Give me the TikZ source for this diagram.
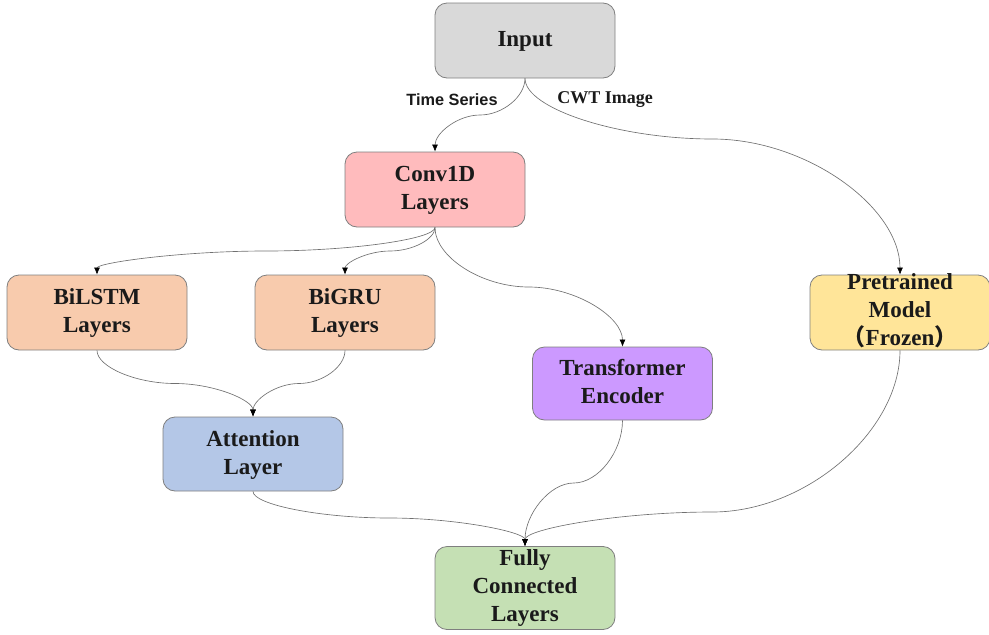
\documentclass[tikz,border=0pt]{standalone}
\usepackage{fontspec}
\setmainfont{Liberation Serif}
\newfontfamily\lsans{Liberation Sans}
\newfontfamily\cjk{Noto Sans CJK SC}
\usetikzlibrary{arrows.meta,calc}
\definecolor{cIn}{HTML}{D9D9D9}
\definecolor{cConv}{HTML}{FFBBBD}
\definecolor{cRnn}{HTML}{F8CBAD}
\definecolor{cTr}{HTML}{CC99FF}
\definecolor{cPre}{HTML}{FFE599}
\definecolor{cAtt}{HTML}{B4C7E7}
\definecolor{cFc}{HTML}{C5E0B4}
\definecolor{cBorder}{HTML}{7F7F7F}
\definecolor{cEdge}{HTML}{707070}
\definecolor{cText}{HTML}{1A1A1A}
\newcommand{\st}{\rule[-6pt]{0pt}{24pt}}
\newcommand{\sm}{\rule[-6pt]{0pt}{22pt}}
\newcommand{\qedge}[3]{%
  \draw[edge] (#1) .. controls ($(#1)!0.5!(#1 |- #2)$) and ($(#2)!0.5!(#1 |- #2)$) .. (#2)
     .. controls ($(#2)!0.5!(#3 |- #2)$) and ($(#3)!0.5!(#3 |- #2)$) .. (#3);}
\tikzset{
  box/.style={draw=cBorder, line width=0.8pt, rounded corners=12pt, minimum width=180pt,
    minimum height=75pt, align=center, inner sep=0pt, text=cText,
    font=\bfseries\fontsize{23}{28}\selectfont},
  edge/.style={draw=cEdge, line width=0.65pt, -{Latex[length=7pt,width=6pt,color=black]}},
  lbl/.style={inner sep=0pt, text=cText}
}
\begin{document}
\begin{tikzpicture}[x=1pt,y=-1pt]
\useasboundingbox (0,0) rectangle (989,635);
\node[box, fill=cIn] (in) at (525,40.5) {\st Input};
\node[box, fill=cConv] (conv) at (435,189.5) {\st Conv1D\\\sm Layers};
\node[box, fill=cRnn] (lstm) at (97,312.5) {\st BiLSTM\\\sm Layers};
\node[box, fill=cRnn] (gru) at (345,312.5) {\st BiGRU\\\sm Layers};
\node[box, fill=cPre, inner ysep=-5pt] (pre) at (900,312.5) {\sm Pretrained\\\sm Model\\\sm{\cjk（}Frozen{\cjk）}};
\node[box, fill=cTr, minimum height=73pt] (tr) at (622.5,383.5) {\st Transformer\\\sm Encoder};
\node[box, fill=cAtt, minimum height=74pt] (att) at (253,454) {\st Attention\\\sm Layer};
\node[box, fill=cFc, minimum height=83pt, inner ysep=-1pt] (fc) at (525,588) {\sm Fully\\\sm Connected\\\sm Layers};

\node[lbl, font=\lsans\bfseries\fontsize{16.3}{19}\selectfont] (ts) at (452,100) {Time Series};
\node[lbl, font=\bfseries\fontsize{18}{20}\selectfont] (cwt) at (605,100) {CWT Image};

\coordinate (m1) at (480,115);
\coordinate (m2) at (712.5,139);
\coordinate (m3) at (266,251);
\coordinate (m4) at (390,251);
\coordinate (m5) at (528.75,287);
\coordinate (m6) at (175,383.5);
\coordinate (m7) at (299,383.5);
\coordinate (m8) at (389,518);
\coordinate (m9) at (573.75,483);
\coordinate (m10) at (712.5,512);

\qedge{in.south}{m1}{conv.north}
\qedge{in.south}{m2}{pre.north}
\qedge{conv.south}{m3}{lstm.north}
\qedge{conv.south}{m4}{gru.north}
\qedge{conv.south}{m5}{tr.north}
\qedge{lstm.south}{m6}{att.north}
\qedge{gru.south}{m7}{att.north}
\qedge{att.south}{m8}{fc.north}
\qedge{tr.south}{m9}{fc.north}
\qedge{pre.south}{m10}{fc.north}
\end{tikzpicture}
\end{document}
